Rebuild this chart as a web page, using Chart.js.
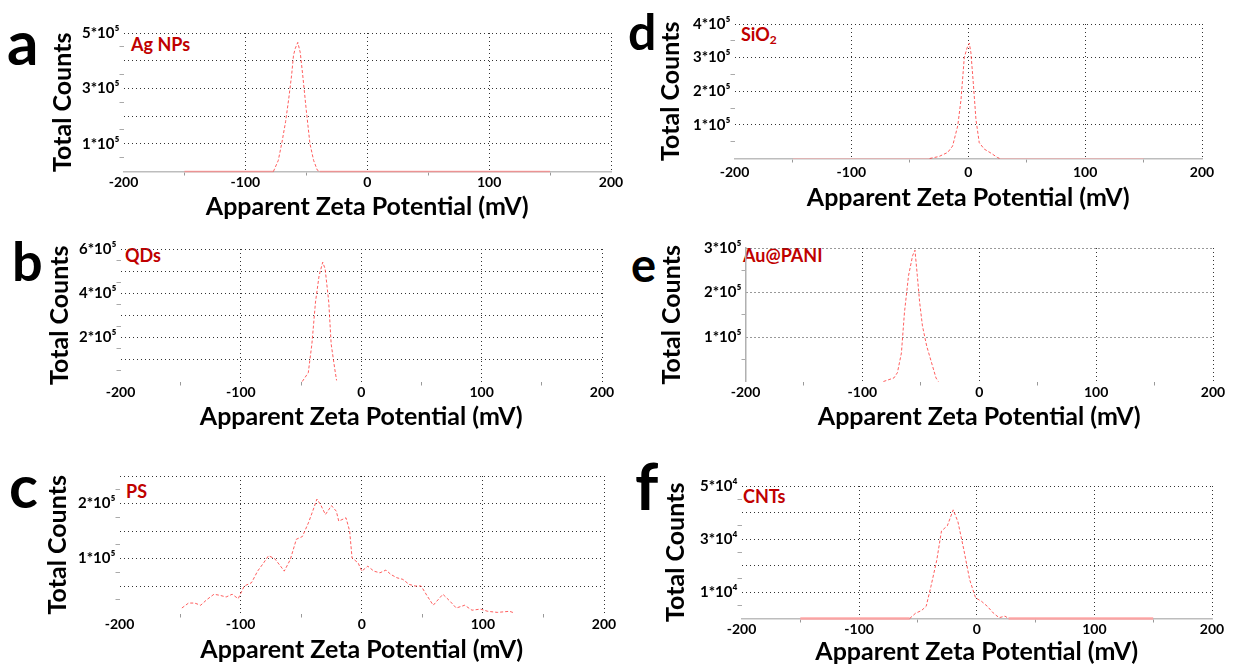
<!DOCTYPE html>
<html>
<head>
<meta charset="utf-8">
<script src="https://cdn.jsdelivr.net/npm/chart.js@4.4.0/dist/chart.umd.min.js"></script>
<style>
  body { margin: 0; background: #fff; width: 1236px; height: 668px; position: relative; overflow: hidden; font-family: Lato, sans-serif; }
  canvas { position: absolute; }
  .letter { position: absolute; font-weight: 700; line-height: 1.2; color: #000; }
  .tag { position: absolute; font-weight: 700; line-height: 1.2; color: #c00000; font-size: 18px; white-space: nowrap; }
  .tag sub { font-size: 12px; vertical-align: -3px; line-height: 0; }
</style>
</head>
<body>
<div class="letter" style="left:7px;top:4px;font-size:62px">a</div>
<div class="letter" style="left:12px;top:229px;font-size:54px">b</div>
<div class="letter" style="left:9px;top:449px;font-size:60px">c</div>
<div class="letter" style="left:628px;top:1px;font-size:50px">d</div>
<div class="letter" style="left:631px;top:236px;font-size:47px">e</div>
<div class="letter" style="left:635px;top:446px;font-size:65px">f</div>

<div class="tag" style="left:131px;top:34px">Ag NPs</div>
<div class="tag" style="left:125px;top:245px">QDs</div>
<div class="tag" style="left:126px;top:481px">PS</div>
<div class="tag" style="left:741px;top:24px">SiO<sub>2</sub></div>
<div class="tag" style="left:743px;top:245px">Au@PANI</div>
<div class="tag" style="left:743px;top:486px">CNTs</div>

<script>
// Gemeinsame x-Achse (mV)
const xTickLabels = [-200, -100, 0, 100, 200];

// a: Ag NPs
const agX = [-150, -77, -73, -70, -67, -64.5, -62, -60.5, -59, -57, -55, -53, -50, -47, -44, -41, -39, 150];
const agY = [0, 0, 40000, 105000, 180000, 260000, 350000, 420000, 445000, 466000, 430000, 350000, 220000, 100000, 40000, 5000, 0, 0];
const agYTicks = [100000, 300000, 500000];

// b: QDs
const qdX = [-49, -44, -41, -38, -35, -32, -30, -27, -25, -22, -20.5];
const qdY = [0, 40000, 170000, 360000, 480000, 540000, 510000, 360000, 170000, 57000, 5000];
const qdYTicks = [200000, 400000, 600000];

// c: PS
const psX = [-148.5, -143, -138, -133, -128, -122, -117, -112, -107, -102, -97, -91, -86, -81, -77, -72, -67, -64, -59, -54,
             -49, -44, -41, -37, -34, -30, -25, -21, -19, -13, -10, -8, -3, 0, 5, 10, 15, 20, 24, 29,
             34, 39, 44, 49, 54, 59, 63, 67, 73, 78, 85, 91, 98, 104, 112, 122, 126];
const psY = [10000, 19000, 19000, 15000, 25000, 35000, 33000, 30000, 35000, 27000, 50000, 56000, 77000, 92000, 105000, 100000, 86000, 77000, 98000, 135000,
             140000, 165000, 183000, 208000, 198000, 180000, 196000, 186000, 168000, 174000, 150000, 101000, 92000, 77000, 86000, 77000, 74000, 79000, 71000, 65000,
             62000, 53000, 50000, 50000, 32000, 15000, 25000, 35000, 22000, 10000, 15000, 6000, 8000, 4000, 2000, 4000, 1000];
const psYTicks = [100000, 200000];

// d: SiO2
const siX = [-150, -33, -25, -17.6, -13.4, -9, -6.2, -3.4, -1.1, 0.9, 2.3, 4.3, 6.6, 9.4, 13.7, 19.4, 25, 27, 150];
const siY = [0, 0, 6000, 18000, 37000, 97000, 175000, 300000, 328000, 343000, 314000, 225000, 116000, 47000, 28000, 16000, 3000, 0, 0];
const siYTicks = [100000, 200000, 300000, 400000];

// e: Au@PANI
const auX = [-82, -73, -70, -66.6, -64, -60.5, -57, -55, -53, -51, -48.6, -45, -40, -37, -35];
const auY = [0, 8000, 20000, 64000, 155000, 238000, 283000, 295000, 238000, 178000, 125000, 80000, 35000, 8000, 0];
const auYTicks = [100000, 200000, 300000];

// f: CNTs
const cntX = [-150, -57, -52, -47, -43, -39, -34, -30, -25, -20, -16, -11, -6, -1, 4, 9, 14, 19, 24, 27, 150];
const cntY = [0, 0, 2000, 3000, 4600, 12000, 22000, 33000, 35000, 41000, 36500, 26000, 14600, 7800, 6500, 4600, 2100, 300, 900, 0, 0];
const cntYTicks = [10000, 30000, 50000];

// Panels: Lage und Stil
const panels = [
  { xs: agX, ys: agY, yTicks: agYTicks, yMax: 500000, grid: 100000, exp: 5,
    L: 123, R: 611, T: 33, B: 172, titleX: 62, labelY: 183, titleY: 207, xBorder: true, yBorder: false, base: 'rgba(255,130,130,0.7)', baseW: 1.5 },
  { xs: qdX, ys: qdY, yTicks: qdYTicks, yMax: 600000, grid: 100000, exp: 5,
    L: 120, R: 602, T: 249, B: 382, titleX: 59, labelY: 393, titleY: 417, xBorder: false, yBorder: false, base: 'rgba(255,130,130,0.7)', baseW: 1 },
  { xs: psX, ys: psY, yTicks: psYTicks, yMax: 250000, grid: 50000, exp: 5,
    L: 119, R: 604, T: 476, B: 614, titleX: 57, labelY: 625, titleY: 650, xBorder: false, yBorder: false, base: 'rgba(255,130,130,0.7)', baseW: 1 },
  { xs: siX, ys: siY, yTicks: siYTicks, yMax: 400000, grid: 100000, exp: 5,
    L: 734, R: 1202, T: 24, B: 159, titleX: 670, labelY: 173, titleY: 198, xBorder: true, yBorder: false, base: 'rgba(255,170,170,0.5)', baseW: 1 },
  { xs: auX, ys: auY, yTicks: auYTicks, yMax: 300000, grid: 100000, exp: 5,
    L: 745, R: 1213, T: 248, B: 382, titleX: 671, labelY: 393, titleY: 417, xBorder: false, yBorder: true, base: 'rgba(255,130,130,0.7)', baseW: 1 },
  { xs: cntX, ys: cntY, yTicks: cntYTicks, yMax: 50000, grid: 10000, exp: 4,
    L: 741, R: 1212, T: 486, B: 619, titleX: 675, labelY: 630, titleY: 652, xBorder: true, yBorder: false, base: 'rgba(255,160,160,0.9)', baseW: 2.5 }
];

const TITLE_SIZE = 25;
const XTICK_FONT = { family: 'Lato', size: 14, weight: 'bold', lineHeight: 1 };
const YTICK_FONT = { family: 'Lato', size: 15, weight: 'bold', lineHeight: 1 };
const TITLE_FONT = { family: 'Lato', size: TITLE_SIZE, weight: 'bold', lineHeight: 1 };
const SUP = { 4: '\u2074', 5: '\u2075' };
const CLEAR = 'rgba(0,0,0,0)';

function isMult(v, step) {
  return Math.abs(v / step - Math.round(v / step)) < 1e-6;
}

function yLabel(v, exp) {
  return Math.round(v / Math.pow(10, exp)) + '*10' + SUP[exp];
}

function makePanel(p) {
  const cl = p.titleX - TITLE_SIZE / 2;
  const ct = p.T - 14;
  const cr = p.R + 22;
  const cb = p.titleY + TITLE_SIZE / 2;

  const canvas = document.createElement('canvas');
  canvas.width = cr - cl;
  canvas.height = cb - ct;
  canvas.style.left = cl + 'px';
  canvas.style.top = ct + 'px';
  document.body.appendChild(canvas);

  const isBase = c => c.p0.parsed.y === 0 && c.p1.parsed.y === 0;

  new Chart(canvas.getContext('2d'), {
    type: 'line',
    data: {
      datasets: [{
        data: p.xs.map((x, i) => ({ x: x, y: p.ys[i] })),
        borderColor: 'rgba(255,40,40,0.75)',
        borderWidth: 1,
        borderDash: [3, 2],
        pointRadius: 0,
        tension: 0,
        fill: false,
        clip: false,
        segment: {
          borderDash: c => isBase(c) ? [] : [3, 2],
          borderColor: c => isBase(c) ? p.base : 'rgba(255,40,40,0.75)',
          borderWidth: c => isBase(c) ? p.baseW : 1
        }
      }]
    },
    options: {
      animation: false,
      responsive: false,
      events: [],
      layout: { padding: { left: 0, top: p.T - ct, right: cr - p.R, bottom: 0 } },
      plugins: { legend: { display: false }, tooltip: { enabled: false } },
      scales: {
        x: {
          type: 'linear', min: -200, max: 200,
          afterFit: s => { s.height = cb - p.B; },
          border: { display: p.xBorder, color: '#bdbdbd', width: 1.5, dash: [1, 3] },
          grid: {
            color: c => (c.tick && c.tick.value > -200 && isMult(c.tick.value, 100)) ? '#333' : CLEAR,
            tickColor: c => (c.tick && !isMult(c.tick.value, 100)) ? '#999' : CLEAR,
            tickLength: 4, lineWidth: 1
          },
          ticks: {
            stepSize: 50, autoSkip: false, maxRotation: 0, color: '#000', font: XTICK_FONT,
            padding: p.labelY - p.B - 4 - 7,
            callback: v => xTickLabels.includes(v) ? String(v) : ''
          },
          title: { display: true, text: 'Apparent Zeta Potential (mV)', color: '#000', padding: 0, font: TITLE_FONT }
        },
        y: {
          type: 'linear', min: 0, max: p.yMax,
          afterFit: s => { s.width = p.L - cl; },
          border: { display: p.yBorder, color: '#b0b0b0', width: 1.5, dash: [1, 3] },
          grid: {
            color: c => (c.tick && c.tick.value > 0 && isMult(c.tick.value, p.grid)) ? '#333' : CLEAR,
            tickColor: c => (c.tick && !isMult(c.tick.value, p.grid)) ? '#aaa' : CLEAR,
            tickLength: 4, lineWidth: 1
          },
          ticks: {
            stepSize: p.grid / 2, autoSkip: false, color: '#000', font: YTICK_FONT, padding: 0,
            callback: v => p.yTicks.some(t => Math.abs(t - v) < 1) ? yLabel(v, p.exp) : ''
          },
          title: { display: true, text: 'Total Counts', color: '#000', padding: 0, font: TITLE_FONT }
        }
      }
    }
  });
}

panels.forEach(makePanel);
</script>
</body>
</html>
